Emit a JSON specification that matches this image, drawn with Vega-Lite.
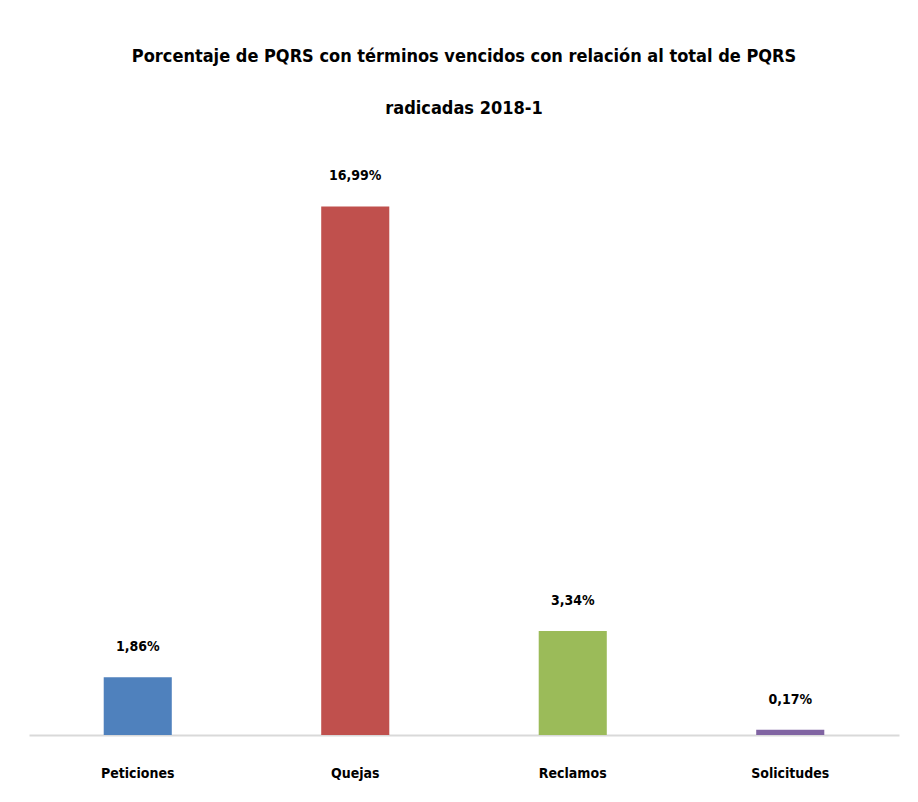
{
  "$schema": "https://vega.github.io/schema/vega-lite/v6.json",
  "autosize": "none",
  "width": 870,
  "height": 560,
  "padding": {"left": 29, "top": 175, "right": 19, "bottom": 67},
  "background": "white",
  "config": {
    "view": {"stroke": null},
    "locale": {"number": {"decimal": ",", "thousands": ".", "grouping": [3], "currency": ["", "€"]}},
    "font": "DejaVu Sans Condensed"
  },
  "title": {
    "text": ["Porcentaje de PQRS con términos vencidos con relación al total de PQRS", "radicadas 2018-1"],
    "font": "DejaVu Sans Condensed",
    "fontSize": 18,
    "fontWeight": "bold",
    "color": "#000000",
    "lineHeight": 52,
    "anchor": "middle",
    "offset": 51
  },
  "data": {
    "values": [
      {"tipo": "Peticiones", "pct": 0.0186},
      {"tipo": "Quejas", "pct": 0.1699},
      {"tipo": "Reclamos", "pct": 0.0334},
      {"tipo": "Solicitudes", "pct": 0.0017}
    ]
  },
  "encoding": {
    "x": {
      "field": "tipo",
      "type": "nominal",
      "sort": null,
      "scale": {"paddingInner": 0.687, "paddingOuter": 0.3435},
      "axis": {
        "title": null,
        "labelAngle": 0,
        "labelFont": "DejaVu Sans Condensed",
        "labelFontSize": 14,
        "labelFontWeight": "bold",
        "labelColor": "#000000",
        "labelPadding": 31,
        "ticks": false,
        "domainColor": "#d9d9d9",
        "domainWidth": 2,
        "domainCap": "butt"
      }
    },
    "y": {
      "field": "pct",
      "type": "quantitative",
      "scale": {"domain": [0, 0.18], "nice": false},
      "axis": null
    }
  },
  "layer": [
    {
      "mark": {"type": "bar"},
      "encoding": {
        "color": {
          "field": "tipo",
          "type": "nominal",
          "scale": {"domain": ["Peticiones", "Quejas", "Reclamos", "Solicitudes"], "range": ["#4f81bd", "#c0504d", "#9bbb59", "#8064a2"]},
          "legend": null
        }
      }
    },
    {
      "mark": {
        "type": "text",
        "baseline": "alphabetic",
        "dy": -26,
        "fontSize": 14,
        "fontWeight": "bold",
        "color": "#000000",
        "font": "DejaVu Sans Condensed"
      },
      "encoding": {
        "text": {"field": "pct", "type": "quantitative", "format": ".2%"}
      }
    }
  ]
}
